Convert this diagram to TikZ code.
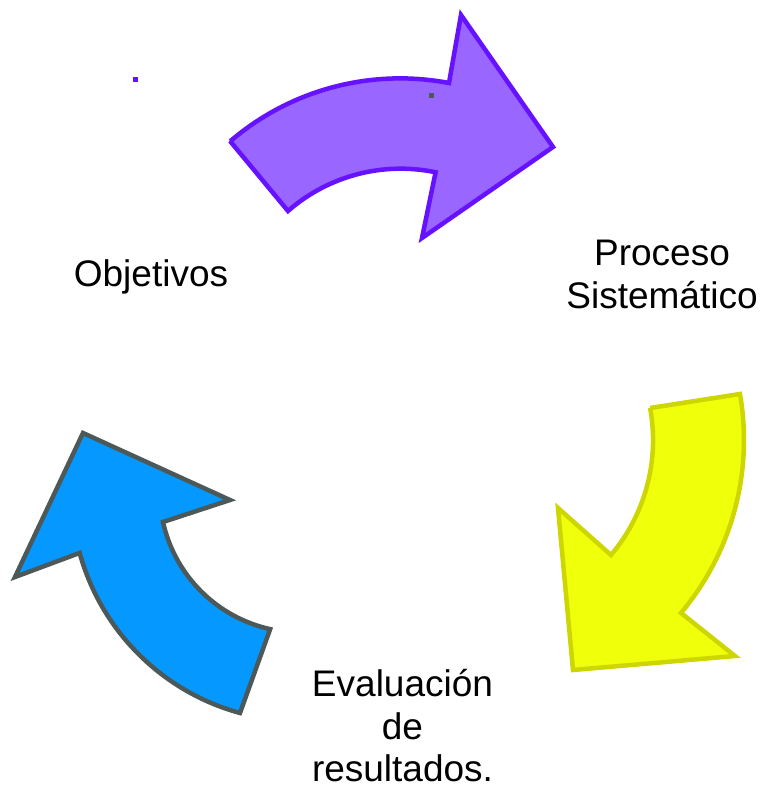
\documentclass[tikz,border=0pt]{standalone}
\usepackage{fontspec}
\setmainfont{Liberation Sans}
\usepackage{tikz}
\usetikzlibrary{positioning}

\definecolor{lila}{HTML}{9966FF}
\definecolor{lilaborde}{HTML}{6611FF}
\definecolor{amarillo}{HTML}{F0FF0A}
\definecolor{amarilloborde}{HTML}{CDD600}
\definecolor{azul}{HTML}{0599FF}
\definecolor{azulborde}{HTML}{4C5958}

\begin{document}
\begin{tikzpicture}[x=1pt, y=-1pt,
    flecha/.style={line width=4.5pt, line join=miter},
    etiqueta/.style={align=center, inner sep=0pt, anchor=base,
      font=\fontsize{37}{42.5}\selectfont}]
  \useasboundingbox (0,0) rectangle (763,785);

  % flecha de arriba
  \draw[flecha, draw=lilaborde, fill=lila]
    (230,141) -- (288,211) arc[start angle=-131.2, end angle=-78.2, radius=171]
    -- (422,238) -- (553,147) -- (461,15) -- (449,83)
    arc[start angle=-79.2, end angle=-130.6, radius=261] -- cycle;
  % flecha de la derecha
  \draw[flecha, draw=amarilloborde, fill=amarillo]
    (650,408) -- (740,394) arc[start angle=-9.85, end angle=40, radius=269]
    -- (735,656) -- (573,670) -- (558,508) -- (611,555)
    arc[start angle=40.2, end angle=-10.4, radius=178] -- cycle;
  % flecha de la izquierda
  \draw[flecha, draw=azulborde, fill=azul]
    (83,433) -- (230,500) -- (163,522)
    arc[start angle=167.5, end angle=102.5, radius=141]
    -- (240,713) arc[start angle=105.3, end angle=164.6, radius=229]
    -- (15,577) -- cycle;

  % puntos sueltos
  \fill[lilaborde] (132.5,76.5) rectangle ++(5,5);
  \fill[azulborde] (428.5,92.5) rectangle ++(5,5);

  % la ultima linea de cada texto va en su linea base
  \node[etiqueta] (objetivos) at (151,286.7) {Objetivos};
  \node[etiqueta] (proceso)   at (662,308.3) {Proceso\\Sistemático};
  \node[etiqueta] (evaluacion) at (402.5,781.7) {Evaluación\\de\\resultados.};
\end{tikzpicture}
\end{document}
